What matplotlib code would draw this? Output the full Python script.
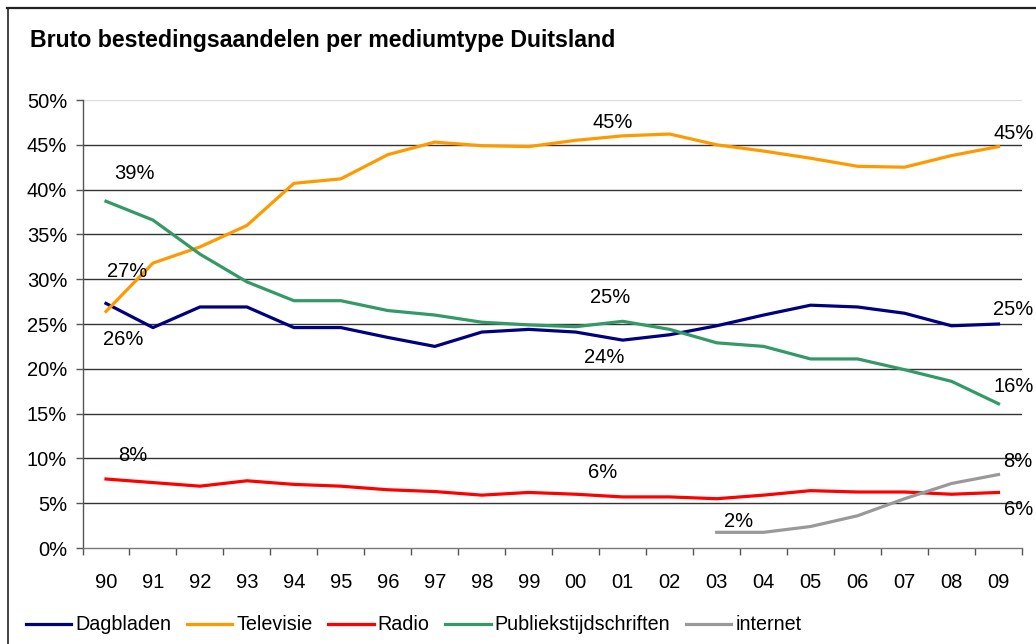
import matplotlib
matplotlib.use("Agg")
import matplotlib.pyplot as plt
from matplotlib.lines import Line2D
import numpy as np

plt.rcParams['font.family'] = ['Liberation Sans', 'DejaVu Sans']

years = ["90", "91", "92", "93", "94", "95", "96", "97", "98", "99",
         "00", "01", "02", "03", "04", "05", "06", "07", "08", "09"]

dagbladen = [27.3, 24.6, 26.9, 26.9, 24.6, 24.6, 23.5, 22.5, 24.1, 24.4,
             24.1, 23.2, 23.8, 24.8, 26.0, 27.1, 26.9, 26.2, 24.8, 25.0]
televisie = [26.4, 31.8, 33.6, 36.0, 40.7, 41.2, 43.9, 45.3, 44.9, 44.8,
             45.5, 46.0, 46.2, 45.0, 44.3, 43.5, 42.6, 42.5, 43.8, 44.8]
radio = [7.7, 7.3, 6.9, 7.5, 7.1, 6.9, 6.5, 6.3, 5.9, 6.2,
         6.0, 5.7, 5.7, 5.5, 5.9, 6.4, 6.25, 6.25, 6.0, 6.2]
publiek = [38.7, 36.6, 32.8, 29.7, 27.6, 27.6, 26.5, 26.0, 25.2, 24.9,
           24.7, 25.3, 24.4, 22.9, 22.5, 21.1, 21.1, 19.9, 18.6, 16.1]
internet_years = ["03", "04", "05", "06", "07", "08", "09"]
internet = [1.75, 1.75, 2.4, 3.6, 5.5, 7.2, 8.2]

series_names = ["Dagbladen", "Televisie", "Radio", "Publiekstijdschriften", "internet"]
colors = ["#000080", "#FF9900", "#FF0000", "#339966", "#999999"]

# data labels: (text, year, value, horizontal offset in categories)
labels = [
    ("39%", "90", 41.8, 0.60), ("27%", "90", 30.9, 0.46), ("26%", "90", 23.3, 0.36),
    ("8%", "90", 10.3, 0.58),
    ("45%", "01", 47.5, -0.22), ("25%", "01", 28.0, -0.26), ("24%", "01", 21.3, -0.39),
    ("6%", "01", 8.4, -0.43), ("2%", "04", 3.0, -0.53),
    ("45%", "09", 46.3, 0.32), ("25%", "09", 26.6, 0.32), ("16%", "09", 18.0, 0.32),
    ("8%", "09", 9.6, 0.42), ("6%", "09", 4.35, 0.42),
]

W, H = 1036, 644
fig = plt.figure(figsize=(W / 100, H / 100), dpi=100)
ax = fig.add_axes([82.5 / W, 1 - 548 / H, (1022 - 82.5) / W, (548 - 100) / H])

x = np.arange(len(years))
xi = np.array([years.index(y) for y in internet_years])

ax.set_ylim(0, 50)
ax.set_xlim(-0.5, len(years) - 0.5)

# gridlines
for v in range(5, 50, 5):
    ax.axhline(v, color="#333333", lw=1.0, zorder=1)
ax.axhline(50, color="#dddddd", lw=1.0, zorder=1)

lw = 2.3
ax.plot(x, dagbladen, color=colors[0], lw=lw, label=series_names[0], zorder=3)
ax.plot(x, televisie, color=colors[1], lw=lw, label=series_names[1], zorder=3)
ax.plot(x, radio, color=colors[2], lw=lw, label=series_names[2], zorder=3)
ax.plot(x, publiek, color=colors[3], lw=lw, label=series_names[3], zorder=3)
ax.plot(xi, internet, color=colors[4], lw=lw, label=series_names[4], zorder=3)

for txt, yr, val, dx in labels:
    ax.text(years.index(yr) + dx, val, txt, ha="center", va="center",
            fontsize=14.5, color="black", zorder=4, clip_on=False)

# axes styling
for s in ["top", "right"]:
    ax.spines[s].set_visible(False)
ax.spines["left"].set_color("#555555")
ax.spines["bottom"].set_color("#777777")
ax.spines["left"].set_linewidth(1.0)
ax.spines["bottom"].set_linewidth(1.0)

ax.set_yticks(range(0, 51, 5))
ax.set_yticklabels([f"{v}%" for v in range(0, 51, 5)], fontsize=14.5)
ax.tick_params(axis="y", direction="out", length=5, width=1, color="#555555", pad=6)

ax.set_xticks(x)
ax.set_xticklabels(years, fontsize=14.5)
ax.set_xticks(np.arange(-0.5, len(years), 1), minor=True)
ax.tick_params(axis="x", which="major", length=0, pad=18)
ax.tick_params(axis="x", which="minor", direction="out", length=5, width=1, color="#555555")

fig.text(30 / W, 1 - 41 / H, "Bruto bestedingsaandelen per mediumtype Duitsland",
         fontsize=16.7, fontweight="bold", ha="left", va="center")

# chart frame (top and left)
fig.add_artist(Line2D([7 / W, 1], [1 - 7.5 / H, 1 - 7.5 / H], color="#222222", lw=1.6,
                      transform=fig.transFigure))
fig.add_artist(Line2D([7.5 / W, 7.5 / W], [0, 1 - 7.5 / H], color="#222222", lw=1.2,
                      transform=fig.transFigure))

handles, lbls = ax.get_legend_handles_labels()
fig.legend(handles, lbls, loc="center left", bbox_to_anchor=(26 / W, 1 - 625 / H),
           ncol=5, frameon=False, fontsize=14.2, handlelength=2.3, handletextpad=0.2,
           columnspacing=0.8, borderpad=0, borderaxespad=0)

fig.savefig("out.png", dpi=100)
